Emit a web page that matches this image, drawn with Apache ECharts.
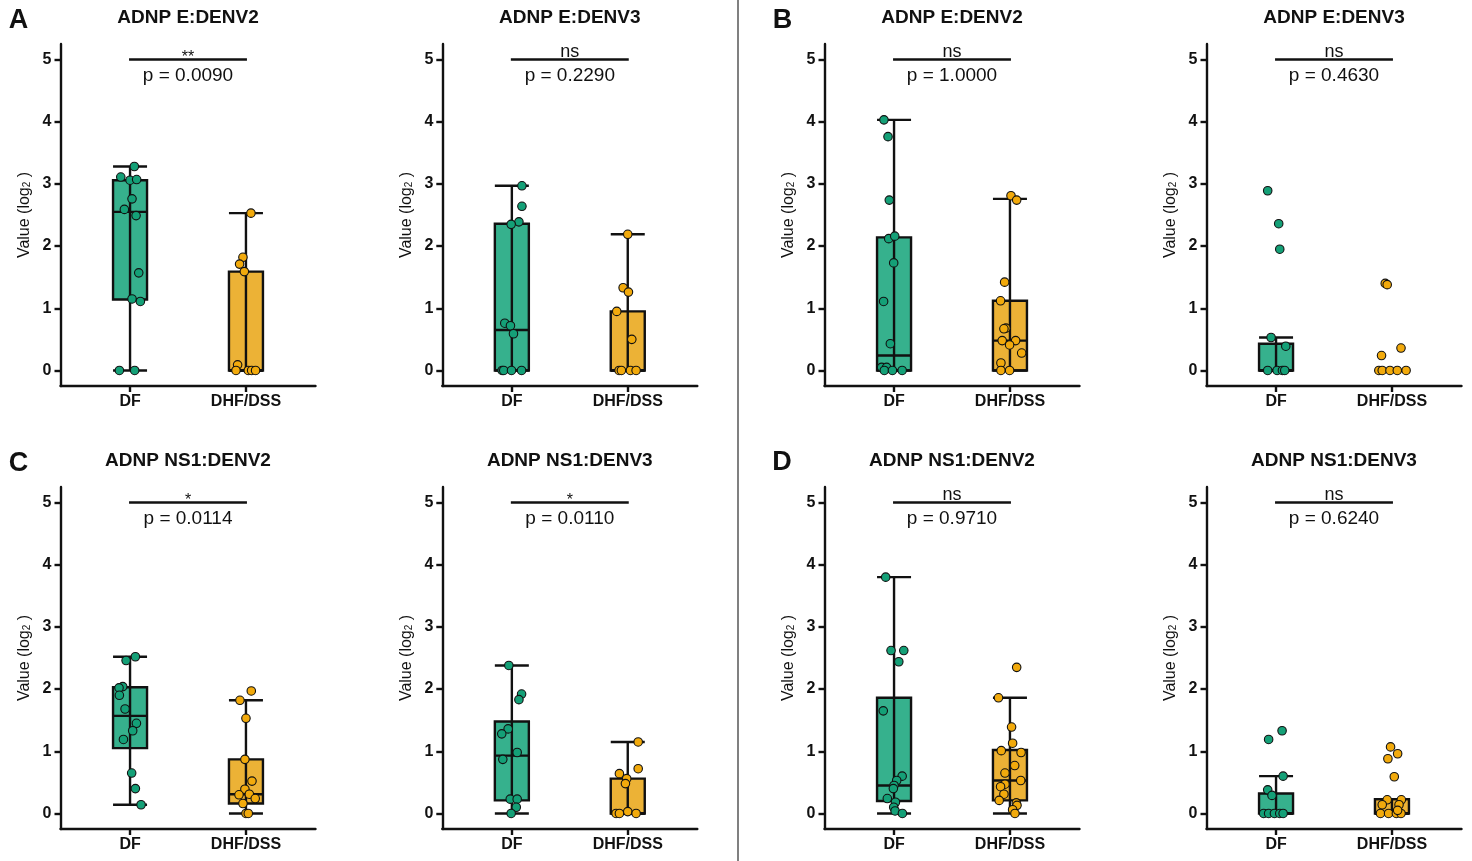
<!DOCTYPE html>
<html>
<head>
<meta charset="utf-8">
<title>ADNP antibody box plots</title>
<script src="https://cdn.jsdelivr.net/npm/echarts@6/dist/echarts.min.js"></script>
<style>
  html, body { margin: 0; padding: 0; background: #fff; }
  #chart { width: 1472px; height: 861px; }
</style>
</head>
<body>
<div id="chart"></div>
<script>
// ---- data ----
const groups = ['DF', 'DHF/DSS'];
const yTicks = [0, 1, 2, 3, 4, 5];
const panelLetters = ['A', 'B', 'C', 'D'];
const titles = ['ADNP E:DENV2', 'ADNP E:DENV3', 'ADNP E:DENV2', 'ADNP E:DENV3',
                'ADNP NS1:DENV2', 'ADNP NS1:DENV3', 'ADNP NS1:DENV2', 'ADNP NS1:DENV3'];
const stars = ['**', 'ns', 'ns', 'ns', '*', '*', 'ns', 'ns'];
const pValues = ['0.0090', '0.2290', '1.0000', '0.4630', '0.0114', '0.0110', '0.9710', '0.6240'];

// box stats per group: [min, Q1, median, Q3, max]
const boxA1 = [[0, 1.14, 2.55, 3.06, 3.28], [0, 0, 0, 1.59, 2.53]];
const boxA2 = [[0, 0, 0.65, 2.36, 2.97], [0, 0, 0, 0.95, 2.19]];
const boxB1 = [[0, 0, 0.24, 2.14, 4.03], [0, 0, 0.48, 1.12, 2.76]];
const boxB2 = [[0, 0, 0, 0.43, 0.53], [0, 0, 0, 0, 0]];
const boxC1 = [[0.14, 1.05, 1.57, 2.03, 2.52], [0, 0.16, 0.31, 0.87, 1.82]];
const boxC2 = [[0, 0.21, 0.93, 1.48, 2.38], [0, 0, 0, 0.56, 1.15]];
const boxD1 = [[0, 0.20, 0.45, 1.86, 3.80], [0, 0.21, 0.53, 1.02, 1.86]];
const boxD2 = [[0, 0, 0, 0.32, 0.60], [0, 0, 0, 0.23, 0.23]];

// individual samples: [jittered group position, value]
const ptsA1Df = [[1.037, 3.28], [0.92, 3.11], [1.0, 3.06], [1.057, 3.07], [1.017, 2.76], [0.951, 2.59],
  [1.052, 2.49], [1.075, 1.57], [1.017, 1.15], [1.089, 1.11], [0.908, 0], [1.04, 0]];
const ptsA1Dhf = [[2.043, 2.53], [1.974, 1.82], [1.945, 1.71], [1.986, 1.59], [1.928, 0.09], [1.914, 0],
  [2.02, 0], [2.049, 0], [2.083, 0]];
const ptsA2Df = [[1.087, 2.97], [1.087, 2.64], [1.061, 2.39], [0.994, 2.35], [0.939, 0.76], [0.988, 0.72],
  [1.014, 0.59], [0.916, 0], [0.93, 0], [0.997, 0], [1.084, 0]];
const ptsA2Dhf = [[2.0, 2.19], [1.96, 1.33], [2.006, 1.26], [1.905, 0.95], [2.035, 0.5], [1.925, 0],
  [1.945, 0], [2.023, 0], [2.072, 0]];
const ptsB1Df = [[0.913, 4.03], [0.948, 3.76], [0.959, 2.74], [0.954, 2.12], [1.006, 2.16], [0.997, 1.73],
  [0.91, 1.11], [0.968, 0.43], [0.893, 0.05], [0.936, 0.05], [0.916, 0], [0.986, 0], [1.07, 0]];
const ptsB1Dhf = [[2.009, 2.81], [2.058, 2.74], [1.954, 1.42], [1.919, 1.12], [1.965, 0.68], [1.948, 0.67],
  [1.933, 0.48], [2.049, 0.48], [1.997, 0.41], [2.101, 0.28], [1.922, 0.12], [1.922, 0], [1.997, 0]];
const ptsB2Df = [[0.928, 2.89], [1.023, 2.36], [1.032, 1.95], [0.957, 0.53], [1.084, 0.39], [0.928, 0],
  [1.009, 0], [1.055, 0], [1.075, 0]];
const ptsB2Dhf = [[1.942, 1.40], [1.959, 1.38], [1.91, 0.24], [2.078, 0.36], [1.887, 0], [1.916, 0],
  [1.983, 0], [2.046, 0], [2.122, 0]];
const ptsC1Df = [[1.046, 2.52], [0.966, 2.46], [0.937, 2.04], [0.905, 2.02], [0.908, 1.90], [0.957, 1.68],
  [1.055, 1.45], [1.023, 1.33], [0.943, 1.19], [1.014, 0.65], [1.046, 0.40], [1.095, 0.14]];
const ptsC1Dhf = [[2.046, 1.97], [1.948, 1.82], [2.0, 1.53], [1.991, 0.87], [2.052, 0.52], [1.991, 0.39],
  [1.94, 0.30], [2.029, 0.31], [2.08, 0.24], [1.974, 0.16], [2.0, 0], [2.02, 0]];
const ptsC2Df = [[0.974, 2.38], [1.084, 1.92], [1.061, 1.83], [0.968, 1.36], [0.913, 1.28], [1.046, 0.98],
  [0.922, 0.87], [0.986, 0.23], [1.046, 0.23], [1.038, 0.10], [0.994, 0]];
const ptsC2Dhf = [[2.09, 1.15], [2.09, 0.72], [1.928, 0.64], [1.991, 0.56], [1.98, 0.48], [1.899, 0],
  [1.928, 0], [2.0, 0.03], [2.072, 0]];
const ptsD1Df = [[0.928, 3.80], [0.974, 2.62], [1.084, 2.62], [1.041, 2.44], [0.907, 1.65], [1.07, 0.6],
  [1.023, 0.53], [1.0, 0.45], [0.994, 0.40], [0.942, 0.24], [1.012, 0.18], [0.997, 0.10], [1.009, 0.04], [1.072, 0]];
const ptsD1Dhf = [[2.058, 2.35], [1.901, 1.86], [2.014, 1.39], [2.023, 1.13], [1.925, 1.01], [2.096, 0.98],
  [2.041, 0.77], [1.957, 0.65], [2.093, 0.53], [1.957, 0.47], [1.919, 0.43], [1.948, 0.31], [1.907, 0.21],
  [2.055, 0.17], [2.061, 0.13], [2.023, 0.06], [2.043, 0]];
const ptsD2Df = [[1.052, 1.33], [0.936, 1.19], [1.061, 0.60], [0.928, 0.38], [0.965, 0.29], [0.893, 0],
  [0.936, 0], [0.986, 0], [1.032, 0], [1.061, 0]];
const ptsD2Dhf = [[1.988, 1.07], [2.049, 0.96], [1.965, 0.88], [2.02, 0.59], [1.959, 0.22], [2.081, 0.22],
  [1.916, 0.14], [2.061, 0.14], [1.901, 0], [1.971, 0], [2.038, 0], [2.078, 0], [2.049, 0.05]];

const panels = [
  { box: boxA1, df: ptsA1Df, dhf: ptsA1Dhf },
  { box: boxA2, df: ptsA2Df, dhf: ptsA2Dhf },
  { box: boxB1, df: ptsB1Df, dhf: ptsB1Dhf },
  { box: boxB2, df: ptsB2Df, dhf: ptsB2Dhf },
  { box: boxC1, df: ptsC1Df, dhf: ptsC1Dhf },
  { box: boxC2, df: ptsC2Df, dhf: ptsC2Dhf },
  { box: boxD1, df: ptsD1Df, dhf: ptsD1Dhf },
  { box: boxD2, df: ptsD2Df, dhf: ptsD2Dhf }
];

// ---- look ----
const INK = '#111';
const GREEN = '#14a077', GREEN_BOX = '#36b18d';
const ORANGE = '#f2aa0c', ORANGE_BOX = '#ecb236';
const FONT = '"Liberation Sans", Arial, sans-serif';
const colLeft = [60.5, 442.3, 824.5, 1206.5];
const rowTop = [44, 487];
const GRID_W = 255, GRID_H = 342;
const BOX_HALF = 17;
const STROKE = 2.4;

// box + whisker through the middle, GraphPad style
function renderBox(params, api) {
  const x = api.value(0);
  const lo = api.coord([x, api.value(1)]);
  const q1 = api.coord([x, api.value(2)])[1];
  const md = api.coord([x, api.value(3)])[1];
  const q3 = api.coord([x, api.value(4)])[1];
  const hi = api.coord([x, api.value(5)])[1];
  const cx = lo[0];
  const line = { stroke: INK, lineWidth: STROKE };
  return {
    type: 'group',
    children: [
      { type: 'rect', shape: { x: cx - BOX_HALF, y: q3, width: BOX_HALF * 2, height: q1 - q3 },
        style: { fill: x < 1.5 ? GREEN_BOX : ORANGE_BOX, stroke: INK, lineWidth: STROKE } },
      { type: 'line', shape: { x1: cx, y1: hi, x2: cx, y2: lo[1] }, style: line },
      { type: 'line', shape: { x1: cx - BOX_HALF, y1: md, x2: cx + BOX_HALF, y2: md }, style: line },
      { type: 'line', shape: { x1: cx - BOX_HALF, y1: hi, x2: cx + BOX_HALF, y2: hi }, style: line },
      { type: 'line', shape: { x1: cx - BOX_HALF, y1: lo[1], x2: cx + BOX_HALF, y2: lo[1] }, style: line }
    ]
  };
}

// significance bar with stars / p value
function bracket(i) {
  return function (params, api) {
    const a = api.coord([1, 5]);
    const b = api.coord([2, 5]);
    const mid = (a[0] + b[0]) / 2;
    const isStar = stars[i] !== 'ns';
    return {
      type: 'group',
      children: [
        { type: 'line', shape: { x1: a[0] - 1, y1: a[1], x2: b[0] + 1, y2: b[1] },
          style: { stroke: INK, lineWidth: 2.6 } },
        { type: 'text', x: mid, y: a[1] + (isStar ? 6 : 1),
          style: { text: stars[i], fill: INK, font: (isStar ? '16px ' : '18px ') + FONT,
                   align: 'center', verticalAlign: 'bottom', textAlign: 'center', textVerticalAlign: 'bottom' } },
        { type: 'text', x: mid, y: a[1] + 16,
          style: { text: 'p = ' + pValues[i], fill: INK, font: '19px ' + FONT,
                   align: 'center', verticalAlign: 'middle', textAlign: 'center', textVerticalAlign: 'middle' } }
      ]
    };
  };
}

const grid = [], xAxis = [], yAxis = [], series = [], graphic = [];

panels.forEach((p, i) => {
  const col = i % 4, row = Math.floor(i / 4);
  grid.push({ left: colLeft[col], top: rowTop[row], width: GRID_W, height: GRID_H });

  xAxis.push({
    gridIndex: i, type: 'value', min: 0.4, max: 2.6,
    axisLine: { show: true, onZero: false, lineStyle: { color: INK, width: STROKE } },
    axisTick: { show: true, customValues: [1, 2], length: 6, lineStyle: { color: INK, width: STROKE } },
    axisLabel: {
      customValues: [1, 2], margin: 8, color: INK, fontSize: 16, fontWeight: 'bold', fontFamily: FONT,
      formatter: v => groups[Math.round(v) - 1]
    },
    splitLine: { show: false }
  });

  yAxis.push({
    gridIndex: i, type: 'value', min: -0.25, max: 5.25,
    name: 'Value (log{sub|2} )', nameLocation: 'middle', nameGap: 28, nameRotate: 90,
    nameTextStyle: {
      color: INK, fontSize: 16, fontFamily: FONT,
      rich: { sub: { fontSize: 10, fontFamily: FONT, color: INK, verticalAlign: 'bottom' } }
    },
    axisLine: { show: true, onZero: false, lineStyle: { color: INK, width: STROKE } },
    axisTick: { show: true, customValues: yTicks, length: 6, lineStyle: { color: INK, width: STROKE } },
    axisLabel: { customValues: yTicks, margin: 9, color: INK, fontSize: 16, fontWeight: 'bold', fontFamily: FONT },
    splitLine: { show: false }
  });

  series.push({
    type: 'custom', xAxisIndex: i, yAxisIndex: i,
    renderItem: renderBox,
    encode: { x: 0, y: [1, 2, 3, 4, 5] },
    data: [[1].concat(p.box[0]), [2].concat(p.box[1])],
    silent: true
  });
  series.push({
    type: 'scatter', xAxisIndex: i, yAxisIndex: i, data: p.df,
    symbolSize: 8.5, itemStyle: { color: GREEN, borderColor: INK, borderWidth: 1.1, opacity: 1 }
  });
  series.push({
    type: 'scatter', xAxisIndex: i, yAxisIndex: i, data: p.dhf,
    symbolSize: 8.5, itemStyle: { color: ORANGE, borderColor: INK, borderWidth: 1.1, opacity: 1 }
  });
  series.push({
    type: 'custom', xAxisIndex: i, yAxisIndex: i,
    renderItem: bracket(i), data: [[1.5, 5]], silent: true
  });

  graphic.push({
    type: 'text', x: colLeft[col] + GRID_W / 2, y: row === 0 ? 18 : 461,
    style: { text: titles[i], fill: INK, font: 'bold 19px ' + FONT,
             align: 'center', verticalAlign: 'middle', textAlign: 'center', textVerticalAlign: 'middle' }
  });
});

// panel letters
[[18.5, 20.5], [782.5, 21], [18.5, 464], [782, 463]].forEach((pos, k) => {
  graphic.push({
    type: 'text', x: pos[0], y: pos[1],
    style: { text: panelLetters[k], fill: INK, font: 'bold 27px ' + FONT,
             align: 'center', verticalAlign: 'middle', textAlign: 'center', textVerticalAlign: 'middle' }
  });
});
// divider between left and right halves
graphic.push({
  type: 'line', shape: { x1: 738, y1: 0, x2: 738, y2: 861 },
  style: { stroke: '#808080', lineWidth: 2 }
});

const chart = echarts.init(document.getElementById('chart'));
chart.setOption({
  animation: false,
  backgroundColor: '#fff',
  grid, xAxis, yAxis, series, graphic
});
</script>
</body>
</html>
